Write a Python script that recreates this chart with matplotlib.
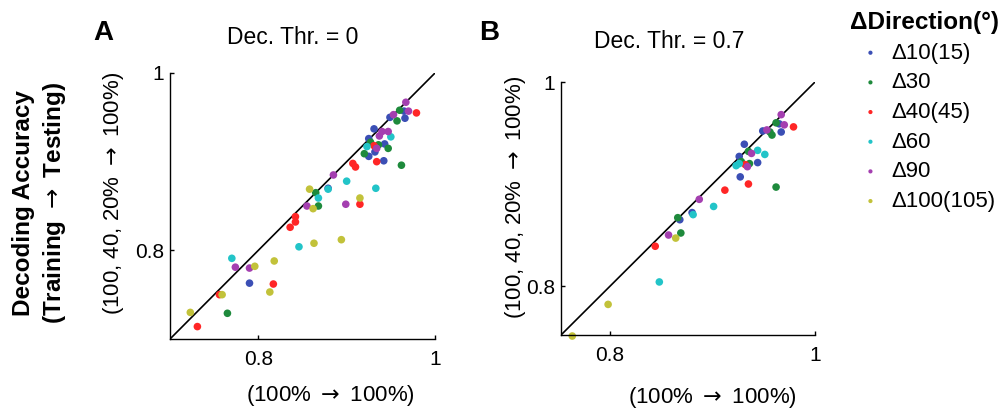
import matplotlib
matplotlib.use("Agg")
import matplotlib.pyplot as plt

plt.rcParams['font.family'] = ['Liberation Sans', 'DejaVu Sans']
plt.rcParams['mathtext.fontset'] = 'dejavusans'

labels = ['Δ10(15)', 'Δ30', 'Δ40(45)', 'Δ60', 'Δ90', 'Δ100(105)']
colors = ['#3b4fb5', '#1e8a3c', '#ff2626', '#22c4c8', '#a43fb0', '#c2c23a']

# panel A (Dec. Thr. = 0)
a_d10_x = [0.931, 0.925, 0.925, 0.932, 0.943, 0.942, 0.949, 0.966, 0.965, 0.879, 0.790]
a_d10_y = [0.937, 0.926, 0.906, 0.911, 0.920, 0.901, 0.950, 0.949, 0.957, 0.870, 0.763]
a_d30_x = [0.960, 0.957, 0.962, 0.920, 0.947, 0.936, 0.927, 0.865, 0.868, 0.765]
a_d30_y = [0.958, 0.946, 0.896, 0.909, 0.915, 0.919, 0.922, 0.865, 0.850, 0.729]
a_d40_x = [0.979, 0.907, 0.910, 0.934, 0.915, 0.842, 0.842, 0.836, 0.817, 0.756, 0.731, 0.931]
a_d40_y = [0.955, 0.898, 0.894, 0.900, 0.852, 0.838, 0.832, 0.826, 0.762, 0.750, 0.714, 0.918]
a_d60_x = [0.950, 0.923, 0.900, 0.879, 0.868, 0.933, 0.846, 0.770]
a_d60_y = [0.928, 0.917, 0.878, 0.869, 0.859, 0.870, 0.804, 0.791]
a_d90_x = [0.967, 0.970, 0.953, 0.940, 0.947, 0.937, 0.934, 0.885, 0.855, 0.899, 0.774, 0.790]
a_d90_y = [0.967, 0.957, 0.953, 0.934, 0.934, 0.929, 0.915, 0.885, 0.850, 0.852, 0.781, 0.780]
a_d100_x = [0.858, 0.862, 0.915, 0.863, 0.894, 0.818, 0.796, 0.813, 0.759, 0.723]
a_d100_y = [0.869, 0.847, 0.859, 0.808, 0.812, 0.788, 0.782, 0.753, 0.750, 0.730]

# panel B (Dec. Thr. = 0.7)
b_d10_x = [0.931, 0.926, 0.927, 0.944, 0.949, 0.965, 0.967, 0.880, 0.868]
b_d10_y = [0.939, 0.927, 0.907, 0.921, 0.952, 0.959, 0.951, 0.872, 0.865]
b_d30_x = [0.962, 0.956, 0.958, 0.962, 0.935, 0.928, 0.936, 0.866, 0.869]
b_d30_y = [0.960, 0.951, 0.948, 0.897, 0.932, 0.922, 0.920, 0.867, 0.852]
b_d40_x = [0.979, 0.932, 0.935, 0.912, 0.844]
b_d40_y = [0.956, 0.919, 0.900, 0.894, 0.839]
b_d60_x = [0.944, 0.951, 0.923, 0.926, 0.901, 0.881, 0.848]
b_d60_y = [0.933, 0.929, 0.918, 0.920, 0.878, 0.870, 0.804]
b_d90_x = [0.967, 0.970, 0.953, 0.938, 0.934, 0.887, 0.857]
b_d90_y = [0.968, 0.958, 0.953, 0.930, 0.917, 0.885, 0.850]
b_d100_x = [0.864, 0.798, 0.763]
b_d100_y = [0.847, 0.782, 0.751]

a_groups = [(a_d10_x, a_d10_y), (a_d30_x, a_d30_y), (a_d40_x, a_d40_y),
            (a_d60_x, a_d60_y), (a_d90_x, a_d90_y), (a_d100_x, a_d100_y)]
b_groups = [(b_d10_x, b_d10_y), (b_d30_x, b_d30_y), (b_d40_x, b_d40_y),
            (b_d60_x, b_d60_y), (b_d90_x, b_d90_y), (b_d100_x, b_d100_y)]

W, H = 1008, 412
fig = plt.figure(figsize=(W / 100, H / 100), dpi=100)


def px(x, y):
    return x / W, 1 - y / H


def panel(rect, groups, lo, ticks):
    ax = fig.add_axes(rect)
    ax.plot([lo, 1], [lo, 1], color='black', lw=1.2, zorder=1)
    handles = []
    for (xs, ys), c, lab in zip(groups, colors, labels):
        h = ax.scatter(xs, ys, s=30, color=c, edgecolors='none', label=lab, zorder=2, clip_on=False)
        handles.append(h)
    ax.set_xlim(lo, 1)
    ax.set_ylim(lo, 1)
    ax.set_xticks(ticks)
    ax.set_yticks(ticks)
    ax.set_xticklabels(['0.8', '1'])
    ax.set_yticklabels(['0.8', '1'])
    for s in ['top', 'right']:
        ax.spines[s].set_visible(False)
    for s in ['left', 'bottom']:
        ax.spines[s].set_linewidth(1.0)
    ax.tick_params(direction='in', length=3, width=1, labelsize=15)
    ax.tick_params(axis='x', pad=8)
    ax.tick_params(axis='y', pad=4)
    return ax, handles


axA, handles = panel([170 / W, 1 - 339 / H, 265 / W, 266 / H], a_groups, 0.7, [0.8, 1.0])
axB, _ = panel([561 / W, 1 - 335 / H, 254 / W, 253 / H], b_groups, 0.752, [0.8, 1.0])

arrow = r' $\rightarrow$ '
fig.text(*px(103, 33), 'A', fontsize=20, fontweight='bold', ha='center', va='center')
fig.text(*px(489, 33), 'B', fontsize=20, fontweight='bold', ha='center', va='center')
fig.text(*px(293, 37), 'Dec. Thr. = 0', fontsize=16.5, ha='center', va='center')
fig.text(*px(669, 41), 'Dec. Thr. = 0.7', fontsize=16.5, ha='center', va='center')

fig.text(*px(330, 396), '(100%' + arrow + '100%)', fontsize=16, ha='center', va='center')
fig.text(*px(712, 398), '(100%' + arrow + '100%)', fontsize=16, ha='center', va='center')
fig.text(*px(114, 193), '(100, 40, 20%' + arrow + '100%)', fontsize=16, rotation=90,
         ha='center', va='center')
fig.text(*px(516, 197), '(100, 40, 20%' + arrow + '100%)', fontsize=16, rotation=90,
         ha='center', va='center')
fig.text(*px(40, 203), 'Decoding Accuracy\n(Training' + arrow + 'Testing)', fontsize=17.5,
         fontweight='bold', rotation=90, ha='center', va='center', linespacing=1.3)

leg = fig.legend(handles, labels, loc='upper left', bbox_to_anchor=px(841, 2),
                 frameon=False, fontsize=16, markerscale=0.55, handlelength=1.85,
                 handletextpad=0.0, labelspacing=0.39, borderaxespad=0,
                 title='ΔDirection(°)', title_fontproperties={'weight': 'bold', 'size': 17.5})
leg._legend_box.align = 'left'

fig.savefig('out.png', dpi=100)
